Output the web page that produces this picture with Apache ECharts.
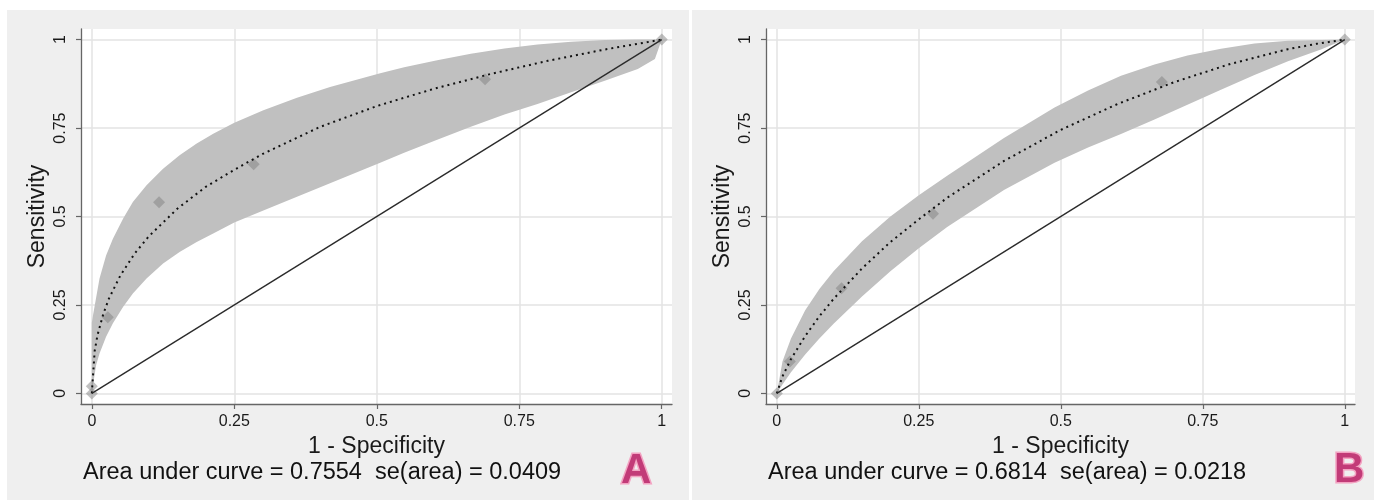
<!DOCTYPE html>
<html>
<head>
<meta charset="utf-8">
<title>ROC curves A and B</title>
<script src="https://cdn.jsdelivr.net/npm/echarts@6/dist/echarts.min.js"></script>
<style>
  html, body { margin: 0; padding: 0; background: #fff; }
  #chart { width: 1378px; height: 502px; }
</style>
</head>
<body>
<div id="chart"></div>
<script>
// axis ticks shared by both panels
const tickValues = [0, 0.25, 0.5, 0.75, 1];

// panel A: empirical points (1 - specificity, sensitivity)
const aPoints = [[0, 0], [0, 0.02], [0.028, 0.215], [0.118, 0.54], [0.284, 0.648], [0.69, 0.888], [1, 1]];
// panel A: fitted (dotted) curve
const aCurve = [[0, 0], [0.005, 0.12], [0.01, 0.165], [0.02, 0.224], [0.03, 0.268], [0.05, 0.333],
  [0.075, 0.395], [0.1, 0.444], [0.15, 0.522], [0.2, 0.584], [0.25, 0.632], [0.3, 0.677],
  [0.4, 0.753], [0.5, 0.812], [0.6, 0.861], [0.7, 0.903], [0.8, 0.94], [0.9, 0.972], [0.95, 0.986], [1, 1]];
// panel A: confidence band edges
const aBandUpper = [[0, 0], [0, 0.2], [0.002, 0.22], [0.0135, 0.325], [0.025, 0.39], [0.037, 0.437],
  [0.055, 0.494], [0.072, 0.541], [0.096, 0.588], [0.125, 0.635], [0.154, 0.673], [0.184, 0.706],
  [0.213, 0.734], [0.25, 0.765], [0.301, 0.8], [0.36, 0.836], [0.418, 0.866], [0.506, 0.905],
  [0.548, 0.922], [0.606, 0.942], [0.665, 0.96], [0.724, 0.975], [0.782, 0.986], [0.841, 0.994],
  [0.9, 0.999], [0.958, 1], [1, 1]];
const aBandLower = [[0, 0], [0.002, 0.024], [0.0076, 0.08], [0.0135, 0.113], [0.025, 0.16], [0.037, 0.198],
  [0.055, 0.245], [0.072, 0.282], [0.096, 0.325], [0.125, 0.367], [0.154, 0.4], [0.184, 0.428],
  [0.213, 0.452], [0.25, 0.483], [0.301, 0.517], [0.36, 0.556], [0.418, 0.594], [0.506, 0.652],
  [0.548, 0.68], [0.606, 0.717], [0.665, 0.754], [0.724, 0.788], [0.782, 0.818], [0.841, 0.851],
  [0.9, 0.884], [0.958, 0.917], [0.988, 0.945], [1, 1]];

// panel B
const bPoints = [[0, 0], [0.023, 0.09], [0.114, 0.297], [0.275, 0.508], [0.678, 0.88], [1, 1]];
const bCurve = [[0, 0], [0.01, 0.048], [0.025, 0.097], [0.05, 0.162], [0.075, 0.218], [0.1, 0.267],
  [0.15, 0.353], [0.2, 0.428], [0.25, 0.492], [0.3, 0.553], [0.4, 0.657], [0.5, 0.745], [0.6, 0.818],
  [0.7, 0.88], [0.8, 0.932], [0.9, 0.973], [0.95, 0.988], [1, 1]];
const bBandUpper = [[0, 0], [0.01, 0.09], [0.025, 0.155], [0.05, 0.235], [0.075, 0.295], [0.1, 0.345],
  [0.15, 0.43], [0.2, 0.5], [0.25, 0.56], [0.3, 0.615], [0.4, 0.722], [0.489, 0.808], [0.548, 0.856],
  [0.606, 0.898], [0.665, 0.93], [0.723, 0.955], [0.782, 0.974], [0.841, 0.989], [0.9, 0.997], [1, 1]];
const bBandLower = [[0, 0], [0.01, 0.025], [0.025, 0.06], [0.05, 0.11], [0.075, 0.155], [0.1, 0.197],
  [0.15, 0.274], [0.2, 0.345], [0.25, 0.41], [0.3, 0.47], [0.4, 0.575], [0.489, 0.652], [0.548, 0.695],
  [0.606, 0.733], [0.665, 0.774], [0.723, 0.816], [0.782, 0.858], [0.841, 0.9], [0.9, 0.939],
  [0.958, 0.972], [1, 1]];

const diagonal = [[0, 0], [1, 1]];
const notes = ['Area under curve = 0.7554  se(area) = 0.0409', 'Area under curve = 0.6814  se(area) = 0.0218'];
const panelLetters = ['A', 'B'];

const FONT = '"Liberation Sans", Arial, sans-serif';

const chart = echarts.init(document.getElementById('chart'));

// 坐标轴配置
const makeAxis = (gridIndex, isY) => ({
  type: 'value',
  gridIndex: gridIndex,
  min: isY ? -0.03 : -0.019,
  max: isY ? 1.03 : 1.018,
  name: isY ? 'Sensitivity' : '1 - Specificity',
  nameLocation: 'middle',
  nameGap: isY ? 32 : 26,
  nameTextStyle: { fontFamily: FONT, fontSize: 23, color: '#1a1a1a' },
  axisLine: { show: true, onZero: false, lineStyle: { color: '#666', width: 1.3 } },
  axisTick: { show: true, length: 5, customValues: tickValues, lineStyle: { color: '#666', width: 1.2 } },
  axisLabel: {
    customValues: tickValues,
    rotate: isY ? 90 : 0,
    margin: isY ? 12 : 10,
    fontFamily: FONT,
    fontSize: 16,
    color: '#1a1a1a'
  },
  splitLine: { show: true, lineStyle: { color: '#e3e3e3', width: 1.5 } }
});

// 置信带：用上下边界拼成多边形
const bandSeries = (idx, upper, lower) => ({
  type: 'custom',
  xAxisIndex: idx,
  yAxisIndex: idx,
  data: [[0, 0]],
  silent: true,
  z: 1,
  renderItem: (params, api) => {
    const pts = upper.map(p => api.coord(p)).concat(lower.slice().reverse().map(p => api.coord(p)));
    return { type: 'polygon', shape: { points: pts }, style: { fill: '#c0c0c0' } };
  }
});

const panelSeries = (idx, points, curve, upper, lower) => [
  bandSeries(idx, upper, lower),
  {
    type: 'scatter',
    xAxisIndex: idx,
    yAxisIndex: idx,
    data: points,
    symbol: 'diamond',
    symbolSize: 12,
    itemStyle: { color: 'rgba(125,125,125,0.6)' },
    z: 2
  },
  {
    type: 'line',
    xAxisIndex: idx,
    yAxisIndex: idx,
    data: curve,
    showSymbol: false,
    lineStyle: { color: '#111', width: 2, type: [2, 4] },
    z: 3
  },
  {
    type: 'line',
    xAxisIndex: idx,
    yAxisIndex: idx,
    data: diagonal,
    showSymbol: false,
    lineStyle: { color: '#2b2b2b', width: 1.4 },
    z: 4
  }
];

chart.setOption({
  animation: false,
  backgroundColor: '#fff',
  graphic: [
    { type: 'rect', z: -100, shape: { x: 7, y: 10, width: 682, height: 490 }, style: { fill: '#efefef' } },
    { type: 'rect', z: -100, shape: { x: 692, y: 10, width: 682, height: 490 }, style: { fill: '#efefef' } }
  ],
  title: [
    { text: notes[0], left: 83, top: 461, padding: 0, textStyle: { fontFamily: FONT, fontSize: 23.5, fontWeight: 'normal', color: '#111' } },
    { text: notes[1], left: 768, top: 461, padding: 0, textStyle: { fontFamily: FONT, fontSize: 23.5, fontWeight: 'normal', color: '#111' } },
    { text: panelLetters[0], left: 621, top: 450, padding: 0,
      textStyle: { fontFamily: FONT, fontSize: 42, fontWeight: 'bold', color: '#c23b78', textBorderColor: '#f3a3c2', textBorderWidth: 3 } },
    { text: panelLetters[1], left: 1334, top: 449, padding: 0,
      textStyle: { fontFamily: FONT, fontSize: 42, fontWeight: 'bold', color: '#c23b78', textBorderColor: '#f3a3c2', textBorderWidth: 3 } }
  ],
  grid: [
    { left: 81, top: 29, width: 591, height: 375, show: true, backgroundColor: '#fff', borderWidth: 0 },
    { left: 766, top: 29, width: 589, height: 375, show: true, backgroundColor: '#fff', borderWidth: 0 }
  ],
  xAxis: [makeAxis(0, false), makeAxis(1, false)],
  yAxis: [makeAxis(0, true), makeAxis(1, true)],
  series: [
    ...panelSeries(0, aPoints, aCurve, aBandUpper, aBandLower),
    ...panelSeries(1, bPoints, bCurve, bBandUpper, bBandLower)
  ]
});

window.addEventListener('resize', function() {
  chart.resize();
});
</script>
</body>
</html>
